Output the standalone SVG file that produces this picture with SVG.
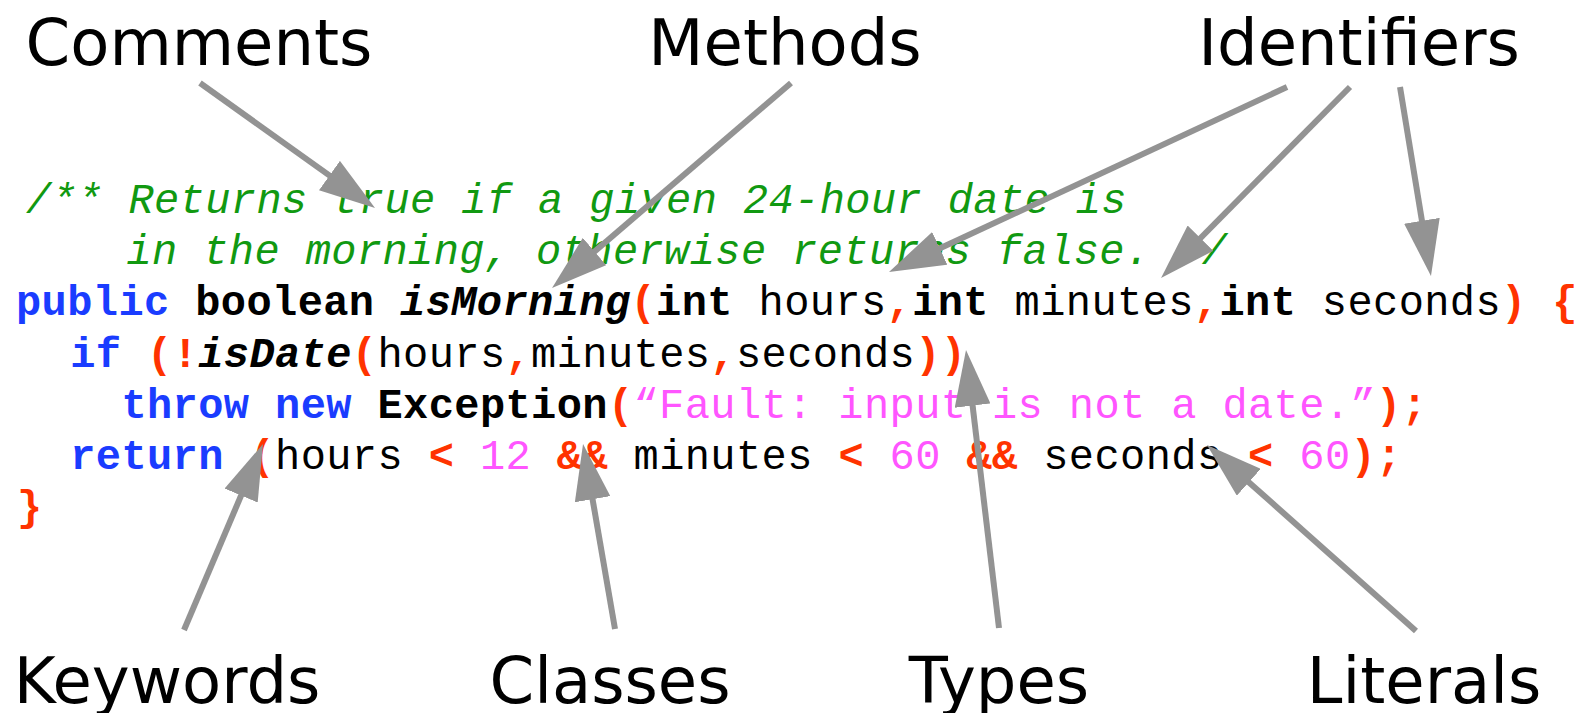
<svg xmlns="http://www.w3.org/2000/svg" width="1581" height="713" viewBox="0 0 1581 713">
<style>
.lbl{font-family:"DejaVu Sans",Verdana,sans-serif;font-size:64px;fill:#000;text-anchor:middle}
.code{font-family:"Liberation Mono","Courier New",monospace;font-size:42px;letter-spacing:0.4px;fill:#000;white-space:pre}
.kw{fill:#1a3cff;font-weight:bold}
.b{font-weight:bold}
.bi{font-weight:bold;font-style:italic}
.p{fill:#ff3300;font-weight:bold}
.lit{fill:#ff55ff}
.cm{fill:#119911;font-style:italic}
.arr{stroke:#939393;stroke-width:6;fill:none;marker-end:url(#ah)}
</style>
<defs>
<marker id="ah" markerUnits="userSpaceOnUse" markerWidth="56" markerHeight="36" refX="11" refY="18" orient="auto">
<path d="M0,0 L56,18 L0,36 z" fill="#939393"/>
</marker>
</defs>
<rect width="1581" height="713" fill="#fff"/>
<g id="code">
<text xml:space="preserve" x="26" y="213" class="code cm">/** Returns true if a given 24-hour date is</text>
<text xml:space="preserve" x="24" y="264" class="code cm">    in the morning, otherwise returns false. */</text>
<text xml:space="preserve" x="16" y="315" class="code"><tspan class="kw">public</tspan><tspan class="b"> boolean </tspan><tspan class="bi">isMorning</tspan><tspan class="p">(</tspan><tspan class="b">int</tspan> hours<tspan class="p">,</tspan><tspan class="b">int</tspan> minutes<tspan class="p">,</tspan><tspan class="b">int</tspan> seconds<tspan class="p">) {</tspan></text>
<text xml:space="preserve" x="19" y="366.5" class="code"><tspan class="kw">  if</tspan><tspan class="p"> (!</tspan><tspan class="bi">isDate</tspan><tspan class="p">(</tspan>hours<tspan class="p">,</tspan>minutes<tspan class="p">,</tspan>seconds<tspan class="p">))</tspan></text>
<text xml:space="preserve" x="19" y="418" class="code"><tspan class="kw">    throw new</tspan><tspan class="b"> Exception</tspan><tspan class="p">(</tspan><tspan class="lit">“Fault: input is not a date.”</tspan><tspan class="p">);</tspan></text>
<text xml:space="preserve" x="19" y="469" class="code"><tspan class="kw">  return</tspan><tspan class="p"> (</tspan>hours <tspan class="p">&lt;</tspan> <tspan class="lit">12</tspan> <tspan class="p">&amp;&amp;</tspan> minutes <tspan class="p">&lt;</tspan> <tspan class="lit">60</tspan> <tspan class="p">&amp;&amp;</tspan> seconds <tspan class="p">&lt;</tspan> <tspan class="lit">60</tspan><tspan class="p">);</tspan></text>
<text xml:space="preserve" x="17" y="520" class="code p">}</text>
</g>
<g id="connectors">
<line class="arr" x1="200" y1="83" x2="338.4" y2="181.9"/>
<line class="arr" x1="791" y1="83" x2="586.2" y2="258.7"/>
<line class="arr" x1="1287" y1="87" x2="929.8" y2="253"/>
<line class="arr" x1="1350" y1="87" x2="1192.7" y2="246"/>
<line class="arr" x1="1400" y1="87" x2="1423.7" y2="231.6"/>
<line class="arr" x1="184" y1="630" x2="245.4" y2="485.4"/>
<line class="arr" x1="615" y1="629" x2="590.7" y2="488.4"/>
<line class="arr" x1="999" y1="628" x2="971.3" y2="394.7"/>
<line class="arr" x1="1416" y1="631" x2="1240.6" y2="474.9"/>
</g>
<g id="label-comments"><text class="lbl" x="199" y="65">Comments</text></g>
<g id="label-methods"><text class="lbl" x="785" y="65">Methods</text></g>
<g id="label-identifiers"><text class="lbl" x="1359" y="65">Identifiers</text></g>
<g id="label-keywords"><text class="lbl" x="167" y="703">Keywords</text></g>
<g id="label-classes"><text class="lbl" x="610" y="703">Classes</text></g>
<g id="label-types"><text class="lbl" x="999" y="703">Types</text></g>
<g id="label-literals"><text class="lbl" x="1424" y="703">Literals</text></g>
</svg>
